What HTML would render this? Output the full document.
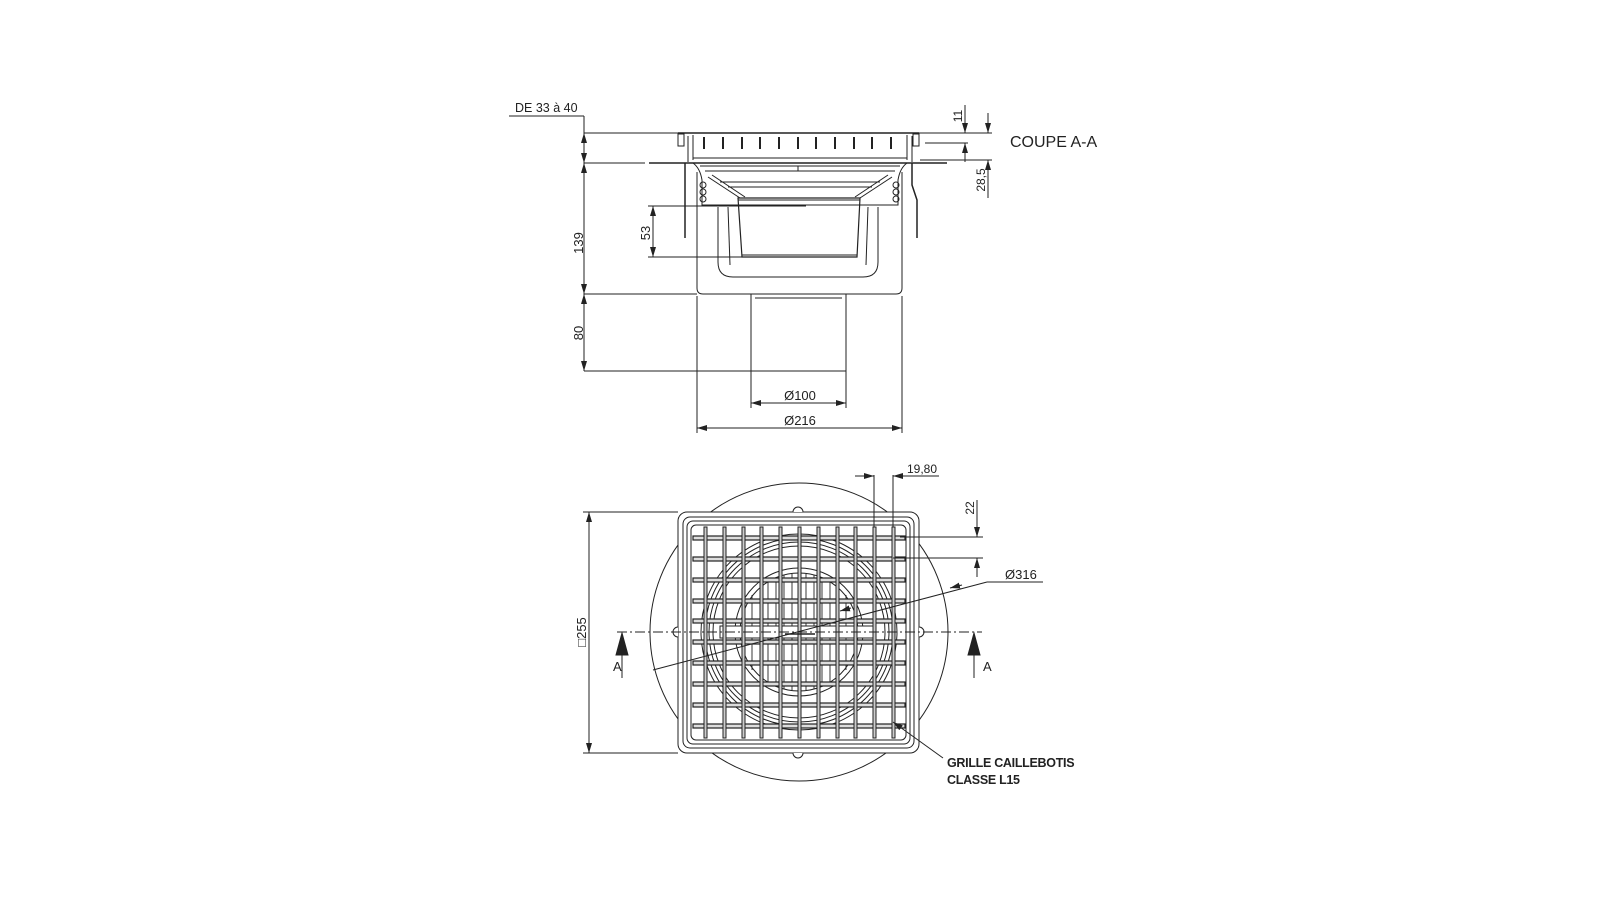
<!DOCTYPE html>
<html><head><meta charset="utf-8"><style>
html,body{margin:0;padding:0;background:#fff;}
svg{display:block;}
text{font-family:"Liberation Sans",sans-serif;fill:#222;}
</style></head><body>
<svg width="1600" height="905" viewBox="0 0 1600 905" xmlns="http://www.w3.org/2000/svg">
<defs>
<marker id="ar" viewBox="0 0 10 6" refX="10" refY="3" markerWidth="10" markerHeight="6" orient="auto-start-reverse" markerUnits="userSpaceOnUse"><path d="M0,0 L10,3 L0,6z" fill="#222"/></marker>
</defs>
<g stroke="#222" stroke-width="1" fill="none">
<line x1="509" y1="116" x2="584" y2="116"/>
<line x1="584" y1="116" x2="584" y2="371"/>
<line x1="584" y1="133" x2="584" y2="163" marker-start="url(#ar)" marker-end="url(#ar)"/>
<line x1="584" y1="163" x2="584" y2="294" marker-start="url(#ar)" marker-end="url(#ar)"/>
<line x1="584" y1="294" x2="584" y2="371" marker-start="url(#ar)" marker-end="url(#ar)"/>
<line x1="584" y1="133" x2="678" y2="133"/>
<line x1="584" y1="163" x2="645" y2="163"/>
<line x1="584" y1="294" x2="697" y2="294"/>
<line x1="584" y1="371" x2="751" y2="371"/>
<line x1="678" y1="133" x2="919" y2="133" stroke-width="1.5"/>
<rect x="678" y="134" width="6" height="12"/>
<rect x="913" y="134" width="6" height="12"/>
<line x1="693" y1="135" x2="693" y2="160"/>
<line x1="907" y1="135" x2="907" y2="160"/>
<line x1="688" y1="136" x2="688" y2="162"/>
<line x1="912" y1="136" x2="912" y2="162"/>
<g stroke-width="2">
<line x1="704" y1="137" x2="704" y2="149"/><line x1="723" y1="137" x2="723" y2="149"/><line x1="742" y1="137" x2="742" y2="149"/><line x1="760" y1="137" x2="760" y2="149"/><line x1="779" y1="137" x2="779" y2="149"/><line x1="798" y1="137" x2="798" y2="149"/><line x1="816" y1="137" x2="816" y2="149"/><line x1="835" y1="137" x2="835" y2="149"/><line x1="854" y1="137" x2="854" y2="149"/><line x1="872" y1="137" x2="872" y2="149"/><line x1="891" y1="137" x2="891" y2="149"/>
</g>
<line x1="693" y1="158" x2="907" y2="158"/>
<line x1="649" y1="163" x2="947" y2="163" stroke-width="1.5"/>
<line x1="700" y1="166" x2="900" y2="166"/>
<line x1="705" y1="171" x2="895" y2="171"/>
<line x1="798" y1="166" x2="798" y2="171"/>
<line x1="685" y1="163" x2="685" y2="238" stroke-width="1.5"/>
<path d="M912,163 L912,185 L917,200 L917,238" stroke-width="1.5"/>
<path d="M697,172 L697,288 Q697,294 703,294 L896,294 Q902,294 902,288 L902,172"/>
<path d="M693,163 Q700,168 702,180 L702,205 L898,205 L898,180 Q900,168 907,163"/>
<circle cx="703" cy="185" r="3"/><circle cx="703" cy="192" r="3"/><circle cx="703" cy="199" r="3"/>
<circle cx="896" cy="185" r="3"/><circle cx="896" cy="192" r="3"/><circle cx="896" cy="199" r="3"/>
<line x1="708" y1="177" x2="740" y2="198"/><line x1="712" y1="175" x2="745" y2="197"/>
<line x1="892" y1="177" x2="860" y2="198"/><line x1="888" y1="175" x2="855" y2="197"/>
<line x1="720" y1="182" x2="880" y2="182"/>
<line x1="728" y1="187" x2="872" y2="187"/>
<line x1="702" y1="205" x2="898" y2="205"/>
<path d="M718,207 L718,262 Q718,277 733,277 L863,277 Q878,277 878,262 L878,207"/>
<path d="M728,207 L730,265"/><path d="M868,207 L866,265"/>
<path d="M738,198 L742,257 L857,257 L860,198 Z" stroke-width="1.2"/>
<line x1="738" y1="200" x2="860" y2="200"/>
<line x1="742" y1="255" x2="857" y2="255"/>
<rect x="751" y="294" width="95" height="77"/>
<line x1="755" y1="298" x2="842" y2="298"/>
<line x1="653" y1="206" x2="653" y2="257" marker-start="url(#ar)" marker-end="url(#ar)"/>
<line x1="648" y1="206" x2="806" y2="206"/>
<line x1="648" y1="257" x2="742" y2="257"/>
<line x1="751" y1="371" x2="751" y2="408"/><line x1="846" y1="371" x2="846" y2="408"/>
<line x1="751" y1="403" x2="846" y2="403" marker-start="url(#ar)" marker-end="url(#ar)"/>
<line x1="697" y1="296" x2="697" y2="433"/><line x1="902" y1="296" x2="902" y2="433"/>
<line x1="697" y1="428" x2="902" y2="428" marker-start="url(#ar)" marker-end="url(#ar)"/>
<line x1="919" y1="133" x2="992" y2="133"/>
<line x1="925" y1="143" x2="968" y2="143"/>
<line x1="920" y1="160" x2="992" y2="160"/>
<line x1="965" y1="105" x2="965" y2="133" marker-end="url(#ar)"/>
<line x1="965" y1="162" x2="965" y2="143" marker-end="url(#ar)"/>
<line x1="988" y1="113" x2="988" y2="133" marker-end="url(#ar)"/>
<line x1="988" y1="198" x2="988" y2="160" marker-end="url(#ar)"/>

<circle cx="799" cy="632" r="149"/>
<rect x="678" y="512" width="241" height="241" rx="9" fill="#fff"/>
<rect x="683" y="517" width="231" height="231" rx="7"/>
<rect x="687" y="521" width="223" height="223" rx="6"/>
<rect x="691" y="525" width="215" height="215" rx="5"/>
<path d="M793,512 A5,5 0 1 1 803,512" fill="#fff"/>
<path d="M793,753 A5,5 0 1 0 803,753" fill="#fff"/>
<path d="M678,627 A5,5 0 1 0 678,637" fill="#fff"/>
<path d="M919,627 A5,5 0 1 1 919,637" fill="#fff"/>
<circle cx="799" cy="632" r="98"/>
<circle cx="799" cy="632" r="94"/>
<circle cx="799" cy="632" r="90"/>
<circle cx="799" cy="632" r="86"/>
<circle cx="799" cy="632" r="64"/>
<circle cx="799" cy="632" r="59"/>
<g stroke-width="0.9">
<line x1="752" y1="595" x2="752" y2="670"/><line x1="760" y1="585" x2="760" y2="680"/><line x1="768" y1="580" x2="768" y2="684"/><line x1="776" y1="577" x2="776" y2="687"/><line x1="784" y1="575" x2="784" y2="689"/><line x1="792" y1="574" x2="792" y2="690"/><line x1="806" y1="574" x2="806" y2="690"/><line x1="814" y1="575" x2="814" y2="689"/><line x1="822" y1="577" x2="822" y2="687"/><line x1="830" y1="580" x2="830" y2="684"/><line x1="838" y1="585" x2="838" y2="680"/><line x1="846" y1="595" x2="846" y2="670"/>
</g>
<rect x="720" y="626" width="155" height="12" fill="#fff"/>
<g fill="#ddd" stroke-width="1.2">
<rect x="693" y="536" width="212" height="4"/><rect x="693" y="557" width="212" height="4"/><rect x="693" y="578" width="212" height="4"/><rect x="693" y="599" width="212" height="4"/><rect x="693" y="619" width="212" height="4"/><rect x="693" y="640" width="212" height="4"/><rect x="693" y="661" width="212" height="4"/><rect x="693" y="682" width="212" height="4"/><rect x="693" y="703" width="212" height="4"/><rect x="693" y="724" width="212" height="4"/>
</g>
<g fill="#ccc" stroke-width="1">
<rect x="704" y="527" width="3" height="211"/><rect x="723" y="527" width="3" height="211"/><rect x="742" y="527" width="3" height="211"/><rect x="760" y="527" width="3" height="211"/><rect x="779" y="527" width="3" height="211"/><rect x="798" y="527" width="3" height="211"/><rect x="817" y="527" width="3" height="211"/><rect x="836" y="527" width="3" height="211"/><rect x="854" y="527" width="3" height="211"/><rect x="873" y="527" width="3" height="211"/><rect x="892" y="527" width="3" height="211"/>
</g>
<line x1="785" y1="634" x2="815" y2="634" stroke-width="1.5"/>
<line x1="617" y1="632" x2="982" y2="632" stroke-dasharray="10,3,2,3"/>
<line x1="622" y1="640" x2="622" y2="678"/>
<path d="M622,633 L616,655 L628,655Z" fill="#222"/>
<line x1="974" y1="640" x2="974" y2="678"/>
<path d="M974,633 L968,655 L980,655Z" fill="#222"/>
<line x1="583" y1="512" x2="678" y2="512"/>
<line x1="583" y1="753" x2="678" y2="753"/>
<line x1="589" y1="512" x2="589" y2="753" marker-start="url(#ar)" marker-end="url(#ar)"/>
<line x1="874" y1="475" x2="874" y2="527"/>
<line x1="893" y1="475" x2="893" y2="527"/>
<line x1="855" y1="476" x2="874" y2="476" marker-end="url(#ar)"/>
<line x1="912" y1="476" x2="893" y2="476" marker-end="url(#ar)"/>
<line x1="905" y1="476" x2="939" y2="476"/>
<line x1="900" y1="537" x2="983" y2="537"/>
<line x1="893" y1="558" x2="983" y2="558"/>
<line x1="977" y1="500" x2="977" y2="537" marker-end="url(#ar)"/>
<line x1="977" y1="577" x2="977" y2="558" marker-end="url(#ar)"/>
<line x1="653" y1="670" x2="987" y2="582"/>
<line x1="987" y1="582" x2="1043" y2="582"/>
<line x1="962" y1="585" x2="950" y2="588" marker-end="url(#ar)"/>
<line x1="851" y1="608" x2="840" y2="611" marker-end="url(#ar)"/>
<line x1="943" y1="758" x2="893" y2="722" marker-end="url(#ar)"/>
</g>
<text x="515" y="112" font-size="12.5">DE 33 à 40</text>
<text x="1010" y="147" font-size="16">COUPE A-A</text>
<text transform="translate(583,243) rotate(-90)" font-size="13" text-anchor="middle">139</text>
<text transform="translate(583,333) rotate(-90)" font-size="13" text-anchor="middle">80</text>
<text transform="translate(650,233) rotate(-90)" font-size="13" text-anchor="middle">53</text>
<text transform="translate(962,116) rotate(-90)" font-size="12" text-anchor="middle">11</text>
<text transform="translate(985,180) rotate(-90)" font-size="12" text-anchor="middle">28,5</text>
<text x="800" y="400" font-size="13" text-anchor="middle">Ø100</text>
<text x="800" y="425" font-size="13" text-anchor="middle">Ø216</text>
<text x="907" y="473" font-size="12">19,80</text>
<text transform="translate(974,508) rotate(-90)" font-size="12" text-anchor="middle">22</text>
<text x="1005" y="579" font-size="13">Ø316</text>
<text transform="translate(586,632) rotate(-90)" font-size="13" text-anchor="middle">□255</text>
<text x="613" y="671" font-size="13">A</text>
<text x="983" y="671" font-size="13">A</text>
<text x="947" y="767" font-size="12.5" font-weight="bold" letter-spacing="-0.3">GRILLE CAILLEBOTIS</text>
<text x="947" y="784" font-size="12.5" font-weight="bold" letter-spacing="-0.3">CLASSE L15</text>
</svg>
</body></html>
